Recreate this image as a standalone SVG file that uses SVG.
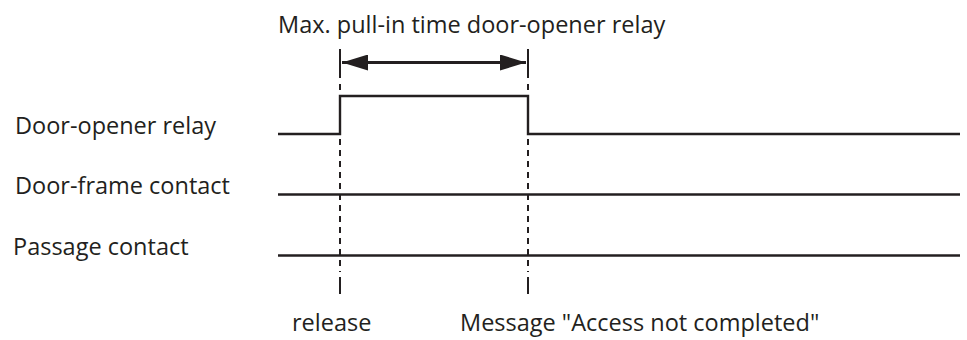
<svg xmlns="http://www.w3.org/2000/svg" width="967" height="340" viewBox="0 0 967 340">
  <defs>
    <style>
      .lbl { font-family: "Open Sans", "Noto Sans", "Liberation Sans", sans-serif; font-size: 23.5px; fill: #231f20; }
      .sig { fill: none; stroke: #231f20; stroke-width: 2.4; stroke-linejoin: miter; stroke-linecap: butt; }
      .mark { fill: none; stroke: #231f20; stroke-width: 2; }
      .dash { fill: none; stroke: #231f20; stroke-width: 2; stroke-dasharray: 6 5; }
      .shaft { fill: none; stroke: #231f20; stroke-width: 3; }
    </style>
    <marker id="head" viewBox="0 0 26 16" refX="26" refY="8" markerWidth="26" markerHeight="16" markerUnits="userSpaceOnUse" orient="auto-start-reverse">
      <path d="M0,0 L26,8 L0,16 Z" fill="#231f20"/>
    </marker>
  </defs>

  <!-- heading over the pull-in interval -->
  <text class="lbl" x="278" y="33">Max. pull-in time door-opener relay</text>

  <!-- signal names -->
  <g id="door-opener-relay">
    <text class="lbl" x="15" y="134">Door-opener relay</text>
  </g>
  <g id="door-frame-contact">
    <text class="lbl" x="15" y="194">Door-frame contact</text>
  </g>
  <g id="passage-contact">
    <text class="lbl" x="13" y="255">Passage contact</text>
  </g>

  <!-- event names -->
  <g id="release">
    <text class="lbl" x="292" y="331">release</text>
  </g>
  <g id="message">
    <text class="lbl" x="460" y="331">Message "Access not completed"</text>
  </g>

  <g id="connectors">
    <!-- waveforms -->
    <path class="sig" d="M278,134 H340 V96 H528 V134 H960"/>
    <path class="sig" d="M278,194.5 H960"/>
    <path class="sig" d="M278,255.5 H960"/>

    <!-- time markers: solid ticks with dashed guides -->
    <path class="mark" d="M340,49 V78"/>
    <path class="mark" d="M528,49 V78"/>
    <path class="dash" d="M340,84 V272"/>
    <path class="dash" d="M528,84 V272"/>
    <path class="mark" d="M340,277 V294"/>
    <path class="mark" d="M528,277 V294"/>

    <!-- interval arrow -->
    <path class="shaft" d="M342,62.5 H526" marker-start="url(#head)" marker-end="url(#head)"/>
  </g>
</svg>
